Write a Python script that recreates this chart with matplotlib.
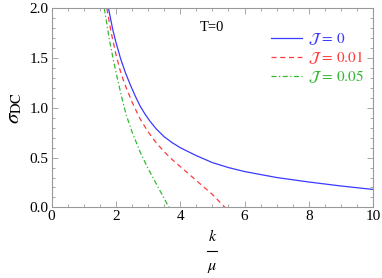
import matplotlib
matplotlib.use('Agg')
import matplotlib.pyplot as plt
from matplotlib.ticker import MultipleLocator
from matplotlib.lines import Line2D

plt.rcParams['font.family'] = ['Liberation Serif', 'DejaVu Serif']
plt.rcParams['mathtext.fontset'] = 'stix'

# values
k_j0 = [1.77, 1.9, 2.0, 2.15, 2.3, 2.45, 2.6, 2.75, 2.9, 3.05, 3.25, 3.5,
        3.75, 4.0, 4.25, 4.5, 5.0, 5.5, 6.0, 6.5, 7.0, 8.0, 9.0, 10.0]
s_j0 = [2.0, 1.79, 1.66, 1.49, 1.35, 1.23, 1.12, 1.02, 0.94, 0.87, 0.79, 0.71,
        0.65, 0.60, 0.56, 0.52, 0.45, 0.40, 0.36, 0.33, 0.30, 0.255, 0.215, 0.18]

k_j001 = [1.72, 1.85, 2.0, 2.12, 2.25, 2.5, 2.75, 3.0, 3.25, 3.5, 3.75, 4.0,
          4.5, 5.0, 5.39]
s_j001 = [2.0, 1.76, 1.54, 1.39, 1.26, 1.06, 0.89, 0.76, 0.65, 0.56, 0.48,
          0.41, 0.27, 0.13, 0.0]

k_j005 = [1.64, 1.8, 1.94, 2.05, 2.2, 2.32, 2.5, 2.75, 3.0, 3.25, 3.5, 3.65]
s_j005 = [2.0, 1.68, 1.45, 1.29, 1.08, 0.93, 0.76, 0.56, 0.39, 0.24, 0.09, 0.0]

labels = [r'$\mathcal{J}\,=\,0$', r'$\mathcal{J}\,=\,0.01$',
          r'$\mathcal{J}\,=\,0.05$']
colors = ['#3a3aff', '#ff3a3a', '#33b833']

fig = plt.figure(figsize=(3.82, 2.78), dpi=100)
ax = fig.add_axes([0.135, 0.254, 0.842, 0.716])

ax.plot(k_j0, s_j0, color=colors[0], linewidth=0.9, label=labels[0])
ax.plot(k_j001, s_j001, color=colors[1], linewidth=0.9, dashes=(4, 3),
        label=labels[1])
ax.plot(k_j005, s_j005, color=colors[2], linewidth=0.9,
        dashes=(4, 2, 1, 2), label=labels[2])

ax.set_xlim(0, 10)
ax.set_ylim(0, 2)
ax.xaxis.set_major_locator(MultipleLocator(2))
ax.xaxis.set_minor_locator(MultipleLocator(0.5))
ax.yaxis.set_major_locator(MultipleLocator(0.5))
ax.yaxis.set_minor_locator(MultipleLocator(0.1))
ax.xaxis.set_major_formatter(plt.FuncFormatter(lambda v, p: '%d' % v))
ax.yaxis.set_major_formatter(plt.FuncFormatter(lambda v, p: '%.1f' % v))

for s in ax.spines.values():
    s.set_color('#999999')
    s.set_linewidth(0.8)
ax.tick_params(which='both', direction='in', top=True, right=True,
               color='#999999', width=0.6, labelsize=11, pad=2)
ax.tick_params(which='major', length=4)
ax.tick_params(which='minor', length=2.5)

ax.text(4.99, 1.81, 'T=0', ha='center', va='center', fontsize=10.5)

leg = ax.legend(loc='upper right', bbox_to_anchor=(1.0, 0.93), frameon=False,
                fontsize=11, handlelength=2.0, handletextpad=0.4,
                labelspacing=0.15, borderaxespad=0.2, labelcolor='linecolor')

ax.set_ylabel(r'$\sigma_{\rm DC}$', fontsize=15, labelpad=4)

# fraction k / mu as x label
fig.text(0.556, 1 - 237 / 278, r'$k$', ha='center', va='center', fontsize=11.5)
fig.add_artist(Line2D([207 / 382, 217 / 382], [1 - 251 / 278, 1 - 251 / 278],
                      color='black', linewidth=0.8))
fig.text(0.556, 1 - 267 / 278, r'$\mu$', ha='center', va='center', fontsize=11.5)

fig.savefig('out.png', dpi=100)
